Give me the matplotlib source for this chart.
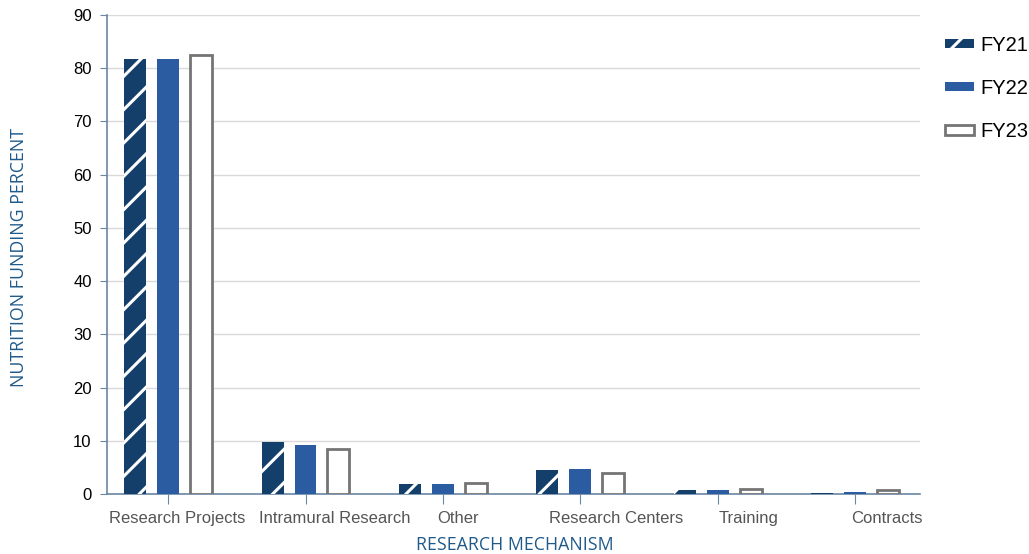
import matplotlib
matplotlib.use('Agg')
import matplotlib.pyplot as plt
import matplotlib.patches as mpatches
import numpy as np

# 数据
categories = ['Research Projects', 'Intramural Research', 'Other',
              'Research Centers', 'Training', 'Contracts']
fy21 = [81.8, 9.8, 1.9, 4.6, 0.8, 0.3]
fy22 = [81.8, 9.3, 1.9, 4.8, 0.8, 0.45]
fy23 = [82.5, 8.4, 2.1, 4.0, 0.9, 0.7]
yticks = [0, 10, 20, 30, 40, 50, 60, 70, 80, 90]

# 标签偏移（原图标签不在刻度正中）
label_shift = [0.066, 0.21, 0.11, 0.26, 0.22, 0.23]

plt.rcParams['font.family'] = ['Liberation Sans', 'DejaVu Sans']
plt.rcParams['hatch.linewidth'] = 2.2

navy = '#143f6b'
blue = '#2b5ba1'
gray = '#747474'
axis_c = '#6a86a3'
title_c = '#1f5a8a'

fig = plt.figure(figsize=(10.29, 5.54), dpi=100)
ax = fig.add_axes([0.104, 0.108, 0.790, 0.865])

x = np.arange(len(categories))
off = 0.24
w = 0.16
ax.bar(x - off, fy21, w, color=navy, edgecolor='white', linewidth=0, hatch='/', zorder=3)
ax.bar(x, fy22, w, color=blue, linewidth=0, zorder=3)
ax.bar(x + off, fy23, w, color='white', edgecolor=gray, linewidth=2, zorder=3)

ax.set_xlim(-0.444, 5.47)
ax.set_ylim(0, 90)
ax.set_yticks(yticks)
ax.set_xticks(x)
ax.set_xticklabels([])
ax.tick_params(axis='y', direction='out', length=5, color=axis_c, labelsize=12, pad=6)
ax.tick_params(axis='x', direction='out', length=7, color=axis_c)
ax.grid(axis='y', color='#d9d9d9', linewidth=1, zorder=0)

for s in ['top', 'right']:
    ax.spines[s].set_visible(False)
for s in ['left', 'bottom']:
    ax.spines[s].set_color(axis_c)
    ax.spines[s].set_linewidth(1.2)

for i, name in enumerate(categories):
    ax.text(x[i] + label_shift[i], -3.1, name, ha='center', va='top', fontsize=12,
            color='#555555', family=['Liberation Sans Narrow', 'Liberation Sans', 'DejaVu Sans'],
            transform=ax.transData)

fig.text(0.5, 0.0, 'RESEARCH MECHANISM', ha='center', va='bottom', fontsize=12.8,
         color=title_c, family=['Open Sans', 'DejaVu Sans'])
fig.text(0.018, 0.535, 'NUTRITION FUNDING PERCENT', ha='center', va='center', rotation=90,
         fontsize=12.8, color=title_c, family=['Open Sans', 'DejaVu Sans'])

# 图例
h1 = mpatches.Patch(facecolor=navy, edgecolor='white', linewidth=0, hatch='/', label='FY21')
h2 = mpatches.Patch(facecolor=blue, linewidth=0, label='FY22')
h3 = mpatches.Patch(facecolor='white', edgecolor=gray, linewidth=2, label='FY23')
fig.legend(handles=[h1, h2, h3], loc='upper left', bbox_to_anchor=(0.911, 0.95),
           frameon=False, fontsize=14.5, handlelength=1.4, handleheight=0.35,
           labelspacing=1.2, handletextpad=0.35, borderaxespad=0)

fig.savefig('out.png', dpi=100)
